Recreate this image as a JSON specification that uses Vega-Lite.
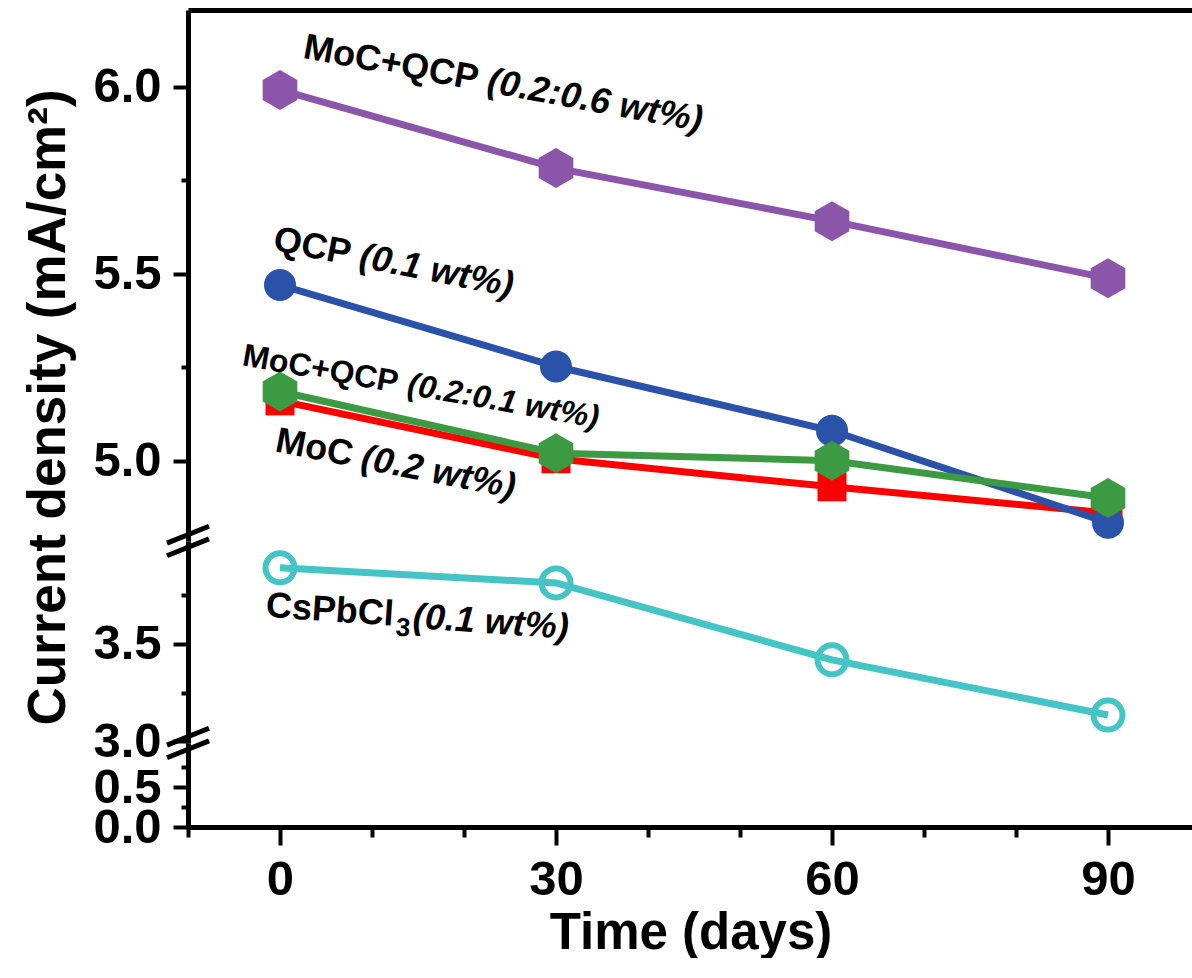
{
  "$schema": "https://vega.github.io/schema/vega-lite/v6.json",
  "background": "white",
  "padding": {"left": 22, "top": 10, "right": 0, "bottom": 0},
  "spacing": 0,
  "bounds": "flush",
  "config": {
    "view": {"stroke": null},
    "axis": {
      "domainColor": "black", "domainWidth": 5, "tickColor": "black", "tickWidth": 4,
      "labelColor": "black", "labelFont": "Liberation Sans",
      "labelFontSize": 49, "labelFontWeight": "bold", "labelOverlap": false, "labelFlush": false,
      "grid": false, "titleColor": "black"
    }
  },
  "datasets": {
    "pts": [
      {"series": "MoC+QCP (0.2:0.6 wt%)", "day": 0, "value": 5.992},
      {"series": "MoC+QCP (0.2:0.6 wt%)", "day": 30, "value": 5.783},
      {"series": "MoC+QCP (0.2:0.6 wt%)", "day": 60, "value": 5.641},
      {"series": "MoC+QCP (0.2:0.6 wt%)", "day": 90, "value": 5.488},
      {"series": "MoC (0.2 wt%)", "day": 0, "value": 5.16},
      {"series": "MoC (0.2 wt%)", "day": 30, "value": 5.005},
      {"series": "MoC (0.2 wt%)", "day": 60, "value": 4.93},
      {"series": "MoC (0.2 wt%)", "day": 90, "value": 4.86},
      {"series": "QCP (0.1 wt%)", "day": 0, "value": 5.47},
      {"series": "QCP (0.1 wt%)", "day": 30, "value": 5.252},
      {"series": "QCP (0.1 wt%)", "day": 60, "value": 5.08},
      {"series": "QCP (0.1 wt%)", "day": 90, "value": 4.834},
      {"series": "MoC+QCP (0.2:0.1 wt%)", "day": 0, "value": 5.185},
      {"series": "MoC+QCP (0.2:0.1 wt%)", "day": 30, "value": 5.02},
      {"series": "MoC+QCP (0.2:0.1 wt%)", "day": 60, "value": 5.0},
      {"series": "MoC+QCP (0.2:0.1 wt%)", "day": 90, "value": 4.9},
      {"series": "CsPbCl3 (0.1 wt%)", "day": 0, "value": 3.892},
      {"series": "CsPbCl3 (0.1 wt%)", "day": 30, "value": 3.814},
      {"series": "CsPbCl3 (0.1 wt%)", "day": 60, "value": 3.418},
      {"series": "CsPbCl3 (0.1 wt%)", "day": 90, "value": 3.134}
    ],
    "labels": [
      {"series": "purple", "label": "MoC+QCP", "day": 2.61, "value": 6.107},
      {"series": "purple", "label": "(0.2:0.6 wt%)", "day": 22.6, "value": 6.016},
      {"series": "blue", "label": "QCP", "day": -0.65, "value": 5.5925},
      {"series": "blue", "label": "(0.1 wt%)", "day": 8.7, "value": 5.547},
      {"series": "green", "label": "MoC+QCP", "day": -4.02, "value": 5.2815},
      {"series": "green", "label": "(0.2:0.1 wt%)", "day": 13.9, "value": 5.204},
      {"series": "red", "label": "MoC", "day": -0.43, "value": 5.054},
      {"series": "red", "label": "(0.2 wt%)", "day": 8.9, "value": 5.008},
      {"series": "cyan", "label": "CsPbCl", "day": -1.52, "value": 3.696},
      {"series": "cyan", "label": "3", "day": 12.6, "value": 3.585},
      {"series": "cyan", "label": "(0.1 wt%)", "day": 14.46, "value": 3.639}
    ]
  },
  "vconcat": [
    {
      "width": 1005,
      "height": 531,
      "layer": [
        {
          "data": {"name": "pts"},
          "transform": [{"filter": "datum.series != 'CsPbCl3 (0.1 wt%)'"}],
          "mark": {"type": "line", "strokeWidth": 7},
          "encoding": {
            "x": {"field": "day", "type": "quantitative", "scale": {"domain": [-10, 99.24], "nice": false, "zero": false},
                  "axis": {"orient": "top", "labels": false, "ticks": false, "title": null}},
            "y": {"field": "value", "type": "quantitative", "scale": {"domain": [4.785, 6.206], "nice": false, "zero": false},
                  "axis": {"values": [5.0, 5.25, 5.5, 5.75, 6.0],
                           "labelExpr": "(round(datum.value*4) % 2 == 0) ? format(datum.value, '.1f') : ''",
                           "tickSize": {"condition": {"test": "round(datum.value*4) % 2 == 1", "value": 7}, "value": 15},
                           "labelPadding": 12,
                           "title": "Current density (mA/cm²)",
                           "titleX": -140, "titleY": 397, "titleAngle": -90, "titleAlign": "center", "titleBaseline": "middle",
                           "titleFont": "Liberation Sans",
                           "titleFontSize": 53, "titleFontWeight": "bold"}},
            "color": {"field": "series", "type": "nominal",
                      "scale": {"domain": ["MoC+QCP (0.2:0.6 wt%)", "MoC (0.2 wt%)", "QCP (0.1 wt%)", "MoC+QCP (0.2:0.1 wt%)", "CsPbCl3 (0.1 wt%)"],
                                "range": ["#8B55AA", "#FF0000", "#2A52A8", "#3C9A42", "#44C4C4"]},
                      "legend": null}
          }
        },
        {
          "data": {"name": "pts"},
          "transform": [{"filter": "datum.series != 'CsPbCl3 (0.1 wt%)'"}],
          "mark": {"type": "point", "filled": true, "opacity": 1},
          "encoding": {
            "x": {"field": "day", "type": "quantitative"},
            "y": {"field": "value", "type": "quantitative"},
            "color": {"field": "series", "type": "nominal", "legend": null},
            "shape": {"field": "series", "type": "nominal", "legend": null,
                      "scale": {"domain": ["MoC+QCP (0.2:0.6 wt%)", "MoC (0.2 wt%)", "QCP (0.1 wt%)", "MoC+QCP (0.2:0.1 wt%)"],
                                "range": ["M0,-1L0.866,-0.5L0.866,0.5L0,1L-0.866,0.5L-0.866,-0.5Z", "square", "circle", "M0,-1L0.866,-0.5L0.866,0.5L0,1L-0.866,0.5L-0.866,-0.5Z"]}},
            "size": {"field": "series", "type": "nominal", "legend": null,
                     "scale": {"type": "ordinal", "domain": ["MoC+QCP (0.2:0.6 wt%)", "MoC (0.2 wt%)", "QCP (0.1 wt%)", "MoC+QCP (0.2:0.1 wt%)"],
                               "range": [1600, 841, 1024, 1600]}}
          }
        },
        {
          "data": {"values": [{"b": 1}]},
          "mark": {"type": "point", "shape": "M-1,0.1L1,-0.7M-1,0.7L1,-0.1", "size": 1764, "filled": false, "stroke": "black", "strokeWidth": 5, "opacity": 1},
          "encoding": {
            "x": {"datum": -10, "type": "quantitative"},
            "y": {"datum": 4.785, "type": "quantitative"}
          }
        },
        {
          "data": {"name": "labels"},
          "transform": [{"filter": "datum.series == 'purple' && indexof(datum.label, '(') != 0"}],
          "mark": {"type": "text", "font": "Liberation Sans", "fontWeight": "bold", "fontSize": 36, "align": "left", "baseline": "middle", "angle": 10.5, "color": "black"},
          "encoding": {"x": {"field": "day", "type": "quantitative"}, "y": {"field": "value", "type": "quantitative"}, "text": {"field": "label"}}
        },
        {
          "data": {"name": "labels"},
          "transform": [{"filter": "datum.series == 'purple' && indexof(datum.label, '(') == 0"}],
          "mark": {"type": "text", "font": "Liberation Sans", "fontWeight": "bold", "fontStyle": "italic", "fontSize": 36, "align": "left", "baseline": "middle", "angle": 10.5, "color": "black"},
          "encoding": {"x": {"field": "day", "type": "quantitative"}, "y": {"field": "value", "type": "quantitative"}, "text": {"field": "label"}}
        },
        {
          "data": {"name": "labels"},
          "transform": [{"filter": "(datum.series == 'blue' || datum.series == 'red') && indexof(datum.label, '(') != 0"}],
          "mark": {"type": "text", "font": "Liberation Sans", "fontWeight": "bold", "fontSize": 36, "align": "left", "baseline": "middle", "angle": 11, "color": "black"},
          "encoding": {"x": {"field": "day", "type": "quantitative"}, "y": {"field": "value", "type": "quantitative"}, "text": {"field": "label"}}
        },
        {
          "data": {"name": "labels"},
          "transform": [{"filter": "(datum.series == 'blue' || datum.series == 'red') && indexof(datum.label, '(') == 0"}],
          "mark": {"type": "text", "font": "Liberation Sans", "fontWeight": "bold", "fontStyle": "italic", "fontSize": 36, "align": "left", "baseline": "middle", "angle": 11, "color": "black"},
          "encoding": {"x": {"field": "day", "type": "quantitative"}, "y": {"field": "value", "type": "quantitative"}, "text": {"field": "label"}}
        },
        {
          "data": {"name": "labels"},
          "transform": [{"filter": "datum.series == 'green' && indexof(datum.label, '(') != 0"}],
          "mark": {"type": "text", "font": "Liberation Sans", "fontWeight": "bold", "fontSize": 32, "align": "left", "baseline": "middle", "angle": 10, "color": "black"},
          "encoding": {"x": {"field": "day", "type": "quantitative"}, "y": {"field": "value", "type": "quantitative"}, "text": {"field": "label"}}
        },
        {
          "data": {"name": "labels"},
          "transform": [{"filter": "datum.series == 'green' && indexof(datum.label, '(') == 0"}],
          "mark": {"type": "text", "font": "Liberation Sans", "fontWeight": "bold", "fontStyle": "italic", "fontSize": 32, "align": "left", "baseline": "middle", "angle": 10, "color": "black"},
          "encoding": {"x": {"field": "day", "type": "quantitative"}, "y": {"field": "value", "type": "quantitative"}, "text": {"field": "label"}}
        }
      ]
    },
    {
      "width": 1005,
      "height": 202,
      "layer": [
        {
          "data": {"name": "pts"},
          "transform": [{"filter": "datum.series == 'CsPbCl3 (0.1 wt%)'"}],
          "mark": {"type": "line", "strokeWidth": 7, "color": "#44C4C4"},
          "encoding": {
            "x": {"field": "day", "type": "quantitative", "scale": {"domain": [-10, 99.24], "nice": false, "zero": false}, "axis": null},
            "y": {"field": "value", "type": "quantitative", "scale": {"domain": [2.99, 4.03], "nice": false, "zero": false},
                  "axis": {"values": [3.0, 3.25, 3.5, 3.75],
                           "labelExpr": "(round(datum.value*4) % 2 == 0) ? format(datum.value, '.1f') : ''",
                           "tickSize": {"condition": {"test": "round(datum.value*4) % 2 == 1", "value": 7}, "value": 15},
                           "labelPadding": 12, "title": null}}
          }
        },
        {
          "data": {"name": "pts"},
          "transform": [{"filter": "datum.series == 'CsPbCl3 (0.1 wt%)'"}],
          "mark": {"type": "point", "filled": false, "shape": "circle", "size": 841, "strokeWidth": 6, "color": "#44C4C4", "opacity": 1},
          "encoding": {
            "x": {"field": "day", "type": "quantitative"},
            "y": {"field": "value", "type": "quantitative"}
          }
        },
        {
          "data": {"values": [{"b": 1}]},
          "mark": {"type": "point", "shape": "M-1,0.1L1,-0.7M-1,0.7L1,-0.1", "size": 1764, "filled": false, "stroke": "black", "strokeWidth": 5, "opacity": 1},
          "encoding": {
            "x": {"datum": -10, "type": "quantitative"},
            "y": {"datum": 2.99, "type": "quantitative"}
          }
        },
        {
          "data": {"name": "labels"},
          "transform": [{"filter": "datum.series == 'cyan' && datum.label == 'CsPbCl'"}],
          "mark": {"type": "text", "font": "Liberation Sans", "fontWeight": "bold", "fontSize": 36, "align": "left", "baseline": "middle", "angle": 4, "color": "black"},
          "encoding": {"x": {"field": "day", "type": "quantitative"}, "y": {"field": "value", "type": "quantitative"}, "text": {"field": "label"}}
        },
        {
          "data": {"name": "labels"},
          "transform": [{"filter": "datum.series == 'cyan' && datum.label == '3'"}],
          "mark": {"type": "text", "font": "Liberation Sans", "fontWeight": "bold", "fontSize": 26, "align": "left", "baseline": "middle", "angle": 4, "color": "black"},
          "encoding": {"x": {"field": "day", "type": "quantitative"}, "y": {"field": "value", "type": "quantitative"}, "text": {"field": "label"}}
        },
        {
          "data": {"name": "labels"},
          "transform": [{"filter": "datum.series == 'cyan' && indexof(datum.label, '(') == 0"}],
          "mark": {"type": "text", "font": "Liberation Sans", "fontWeight": "bold", "fontStyle": "italic", "fontSize": 36, "align": "left", "baseline": "middle", "angle": 4, "color": "black"},
          "encoding": {"x": {"field": "day", "type": "quantitative"}, "y": {"field": "value", "type": "quantitative"}, "text": {"field": "label"}}
        }
      ]
    },
    {
      "width": 1005,
      "height": 84,
      "data": {"values": [{"b": 1}]},
      "mark": {"type": "point", "opacity": 0},
      "encoding": {
        "x": {"datum": 0, "type": "quantitative", "scale": {"domain": [-10, 99.24], "nice": false, "zero": false},
              "axis": {"values": [-10, 0, 10, 20, 30, 40, 50, 60, 70, 80, 90],
                       "labelExpr": "(datum.value % 30 == 0 && datum.value >= 0) ? datum.value : ''",
                       "tickSize": {"condition": {"test": "datum.value % 30 == 0", "value": 18}, "value": 10},
                       "labelPadding": 10,
                       "title": "Time (days)", "titleFont": "Liberation Sans", "titleFontSize": 51, "titleFontWeight": "bold", "titlePadding": 4}},
        "y": {"datum": 0, "type": "quantitative", "scale": {"domain": [0, 1.05], "nice": false, "zero": false},
              "axis": {"values": [0, 0.25, 0.5, 0.75],
                       "labelExpr": "(round(datum.value*4) % 2 == 0) ? format(datum.value, '.1f') : ''",
                       "tickSize": {"condition": {"test": "round(datum.value*4) % 2 == 1", "value": 7}, "value": 15},
                       "labelPadding": 12, "title": null}}
      }
    }
  ]
}
